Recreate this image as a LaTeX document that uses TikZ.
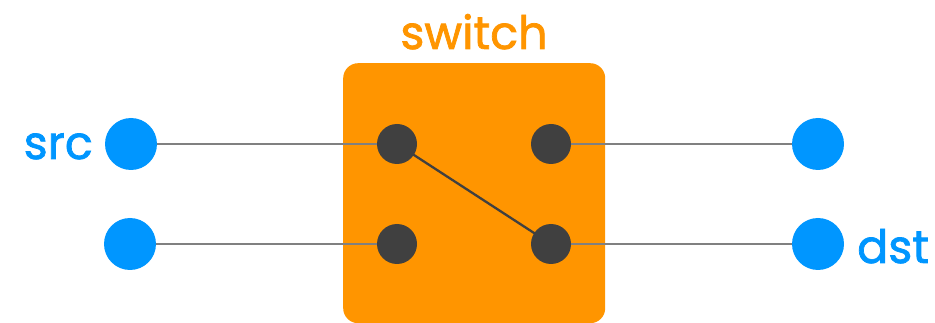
\documentclass[tikz,border=0pt]{standalone}
\usepackage{fontspec}
\setmainfont{Poppins}
\newfontfamily\lblfont[FakeBold=1.6]{Poppins}
\usetikzlibrary{backgrounds}
\definecolor{sworange}{HTML}{FF9500}
\definecolor{swblue}{HTML}{0096FF}
\definecolor{swdark}{HTML}{404040}
\definecolor{swgray}{HTML}{808080}
\tikzset{
  port/.style={circle,fill=swblue,minimum size=52pt,inner sep=0pt},
  contact/.style={circle,fill=swdark,minimum size=40pt,inner sep=0pt},
  wire/.style={draw=swgray,line width=2.3pt},
  lever/.style={draw=swdark,line width=2.3pt},
  lbl/.style={font=\lblfont\fontsize{46}{46}\selectfont,inner sep=0pt}
}
\begin{document}
\begin{tikzpicture}[x=1pt,y=-1pt]
\useasboundingbox (0,0) rectangle (935,323);
\node[lbl,text=sworange,anchor=base] (title) at (474,49) {switch};
\node[port] (p1) at (131,144) {};
\node[port] (p2) at (130,244) {};
\node[port] (p3) at (818,144) {};
\node[port] (p4) at (818,244) {};
\node[contact] (c1) at (397,144) {};
\node[contact] (c2) at (551,144) {};
\node[contact] (c3) at (397,244) {};
\node[contact] (c4) at (551,244) {};
\node[lbl,text=swblue,anchor=base east] (src) at (93,159) {src};
\node[lbl,text=swblue,anchor=base west] (dst) at (857,263) {dst};
\begin{scope}[on background layer]
\node[fill=sworange,rounded corners=15pt,minimum width=262pt,minimum height=260pt,inner sep=0pt,anchor=north west] (box) at (343,63) {};
\path[wire] (p1) -- (c1);
\path[wire] (p2) -- (c3);
\path[wire] (c2) -- (p3);
\path[wire] (c4) -- (p4);
\path[lever] (c1.center) -- (c4.center);
\end{scope}
\end{tikzpicture}
\end{document}
